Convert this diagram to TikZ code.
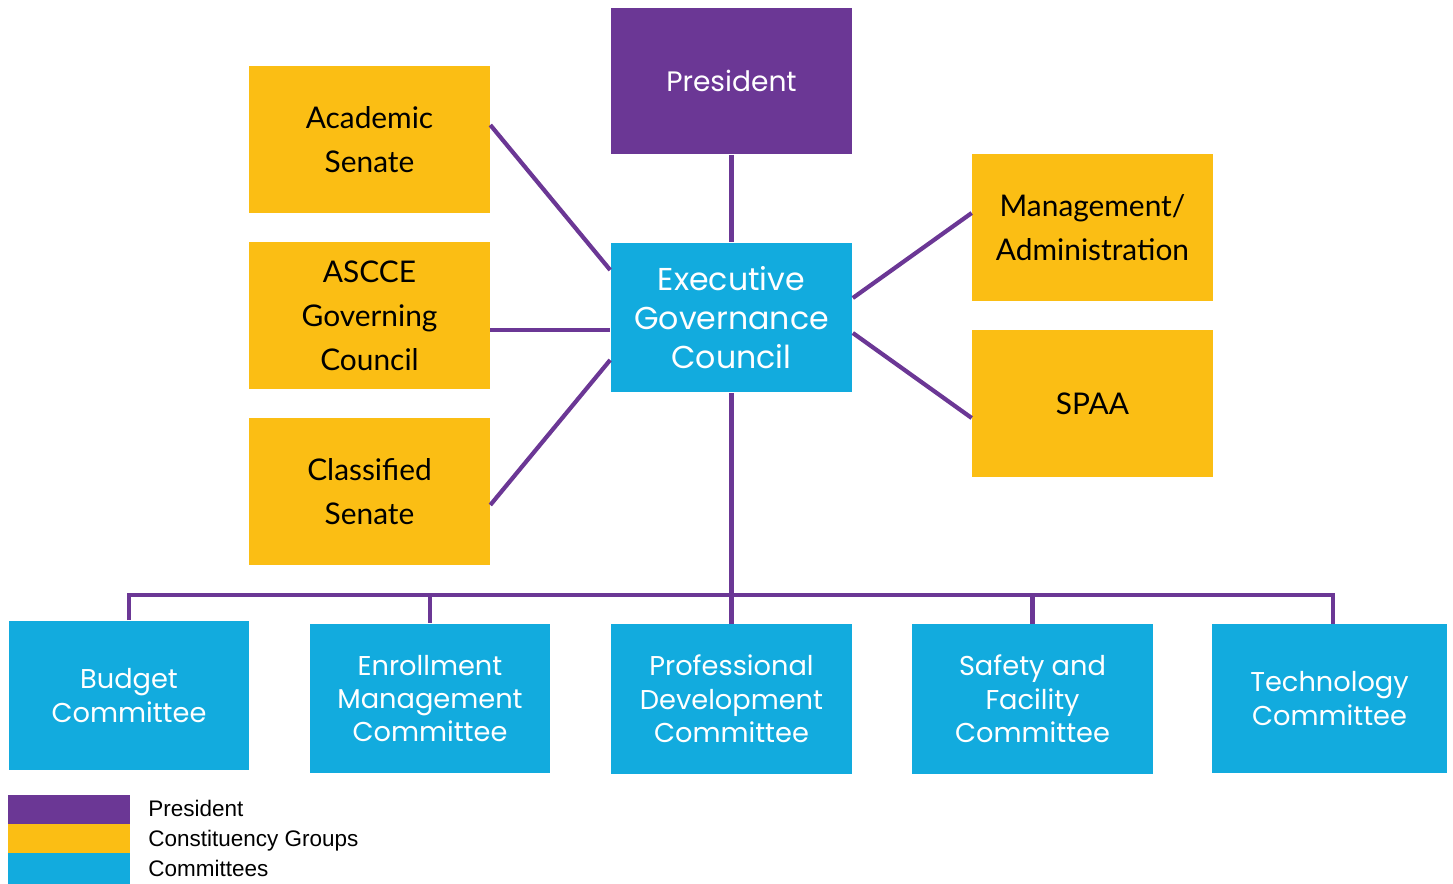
\documentclass[tikz,border=0pt]{standalone}
\usepackage{fontspec}
\setmainfont{Poppins}
\newfontfamily\groupfont{Lato}
\newfontfamily\keyfont{Liberation Sans}
\definecolor{prespurple}{HTML}{6B3795}
\definecolor{groupyellow}{HTML}{FBBE14}
\definecolor{commblue}{HTML}{12ABDE}

\begin{document}
\begin{tikzpicture}[x=0.02cm, y=-0.02cm,
    box/.style={minimum width=4.82cm, minimum height=2.94cm, inner sep=0pt, align=center},
    presbox/.style={box, fill=prespurple, text=white, font=\fontsize{16}{20}\selectfont},
    groupbox/.style={box, fill=groupyellow, text=black, font=\groupfont\fontsize{17}{25}\selectfont},
    commbox/.style={box, minimum height=3cm, fill=commblue, text=white, font=\fontsize{15.5}{19}\selectfont},
    link/.style={draw=prespurple, line width=2.4pt},
    keytext/.style={anchor=base west, inner sep=0pt, font=\keyfont\fontsize{12.8}{15}\selectfont}]
    \useasboundingbox (0,0) rectangle (1453,884);

    % top of the chart
    \node[presbox] (pres) at (731.5,81) {President};
    \node[commbox, minimum width=4.84cm, font=\fontsize{18}{22}\selectfont] (egc) at (731.5,317.5) {Executive\\Governance\\Council};

    % constituency groups
    \node[groupbox] (acad) at (369.5,139.5) {Academic\\Senate};
    \node[groupbox] (ascce) at (369.5,315.5) {ASCCE\\Governing\\Council};
    \node[groupbox] (class) at (369.5,491.5) {Classified\\Senate};
    \node[groupbox] (mgmt) at (1092.5,227.5) {Management/\\Administration};
    \node[groupbox] (spaa) at (1092.5,403.5) {SPAA};

    % committees
    \node[commbox] (budget) at (129,695.5) {Budget\\Committee};
    \node[commbox] (enroll) at (430,698.5) {Enrollment\\Management\\Committee};
    \node[commbox] (profdev) at (731.5,699) {Professional\\Development\\Committee};
    \node[commbox] (safety) at (1032.5,699) {Safety and\\Facility\\Committee};
    \node[commbox, minimum width=4.7cm] (tech) at (1329.5,698.5) {Technology\\Committee};

    % links to the council
    \draw[link] (pres) -- (egc);
    \draw[link] (acad.east |- 0,125) -- (egc.west |- 0,270);
    \draw[link] (ascce.east |- 0,330) -- (egc.west |- 0,330);
    \draw[link] (class.east |- 0,505) -- (egc.west |- 0,360);
    \draw[link] (mgmt.west |- 0,213) -- (egc.east |- 0,298);
    \draw[link] (spaa.west |- 0,418) -- (egc.east |- 0,333);

    % bus down to the committees
    \coordinate (bus) at (731.5,595);
    \coordinate (techtop) at (1333,624);
    \draw[link] (egc) -- (profdev);
    \draw[link, line join=miter] (budget.north) -- (budget.north |- bus) -- (techtop |- bus) -- (techtop);
    \foreach \c in {enroll,safety}
        \draw[link] (\c.north |- bus) -- (\c.north);

    % key
    \fill[prespurple] (8,795) rectangle (130,824);
    \fill[groupyellow] (8,824) rectangle (130,853);
    \fill[commblue] (8,853) rectangle (130,884);
    \node[keytext] (kpres) at (148,816) {President};
    \node[keytext] (kgroup) at (148,846) {Constituency Groups};
    \node[keytext] (kcomm) at (148,876) {Committees};
\end{tikzpicture}
\end{document}
